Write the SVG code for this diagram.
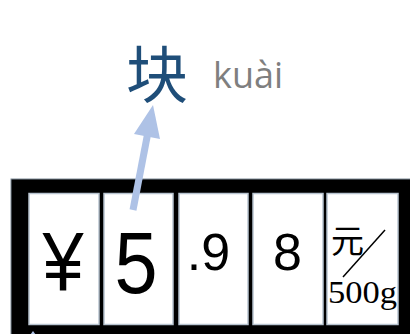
<svg xmlns="http://www.w3.org/2000/svg" width="410" height="334" viewBox="0 0 410 334">
<style>
.cell{fill:#ffffff;stroke:#b8c4d0;stroke-width:1.5}
.big{font-family:"Liberation Sans",Arial,sans-serif;fill:#000;text-anchor:middle}
.arrow{fill:#aec2e6}
</style>
<rect width="410" height="334" fill="#ffffff"/>
<g id="frame">
<rect x="11" y="179" width="420" height="180" fill="#000000" stroke="#7d8a96" stroke-width="1"/>
</g>
<g id="cell-yen">
<rect class="cell" x="29" y="193.5" width="70" height="131"/>
<text class="big" x="63" y="290" font-size="84" transform="translate(63 0) scale(0.88 1) translate(-63 0)">¥</text>
</g>
<g id="cell-5">
<rect class="cell" x="104" y="193.5" width="69" height="131"/>
<text class="big" x="136" y="293" font-size="88" transform="translate(136 0) scale(0.88 1) translate(-136 0)">5</text>
</g>
<g id="cell-9">
<rect class="cell" x="179" y="193.5" width="69" height="131"/>
<text class="big" x="208.5" y="270" font-size="52">.9</text>
</g>
<g id="cell-8">
<rect class="cell" x="253" y="193.5" width="70" height="131"/>
<text class="big" x="287.5" y="270" font-size="52">8</text>
</g>
<g id="cell-unit">
<rect class="cell" x="327" y="193.5" width="71" height="131"/>
<text x="347.5" y="252.5" font-size="33" text-anchor="middle" font-family="'Noto Sans CJK SC',sans-serif" fill="#000">元</text>
<line x1="385" y1="230" x2="343" y2="277" stroke="#000" stroke-width="1.5"/>
<text x="328" y="303" font-size="31" textLength="69" lengthAdjust="spacingAndGlyphs" font-family="'Liberation Serif',serif" fill="#000">500g</text>
</g>
<g id="char-kuai">
<text x="157" y="98" font-size="62" text-anchor="middle" font-family="'Noto Sans CJK SC',sans-serif" fill="#1f4e79">块</text>
<text x="213" y="88" font-size="36" font-family="'Open Sans',sans-serif" fill="#7f7f7f">kuài</text>
</g>
<g id="connectors">
<line x1="133" y1="210" x2="148" y2="132" stroke="#aec2e6" stroke-width="7"/>
<polygon class="arrow" points="153,105 160,139 134,134"/>
<polygon class="arrow" points="33,331 41,342 25,342"/>
</g>
</svg>
